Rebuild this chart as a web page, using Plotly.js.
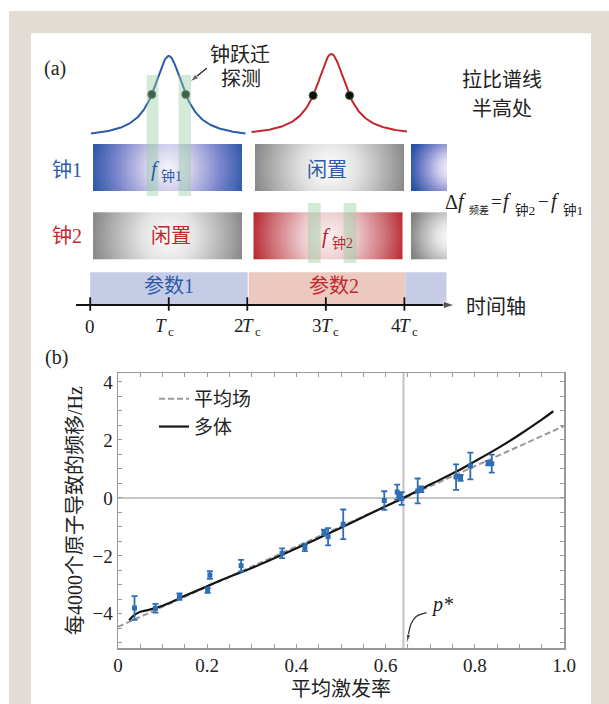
<!DOCTYPE html>
<html><head><meta charset="utf-8">
<script src="https://cdn.plot.ly/plotly-3.0.1.min.js"></script>
<style>html,body{margin:0;padding:0;background:#fff}</style>
</head><body><div id="chart" style="width:609px;height:704px"></div>
<script>
// ================= Panel (b) data =================
const excitation = [0.037,0.084,0.138,0.201,0.206,0.276,0.368,0.419,0.462,0.471,0.505,0.597,0.626,0.632,0.636,0.672,0.680,0.758,0.768,0.790,0.830,0.838];
const shift      = [-3.80,-3.81,-3.41,-3.19,-2.66,-2.34,-1.91,-1.71,-1.19,-1.34,-0.91,-0.09,0.20,0.07,-0.02,0.24,0.30,0.72,0.69,1.10,1.20,1.18];
const shiftErr   = [0.41,0.15,0.11,0.09,0.13,0.20,0.17,0.13,0.09,0.30,0.51,0.32,0.26,0.10,0.22,0.43,0.10,0.44,0.10,0.46,0.08,0.31];
const meanFieldX = [0, 1];
const meanFieldY = [-4.45, 2.48];
const manyBodyX = [0.025,0.035,0.05,0.07,0.10,0.15,0.20,0.25,0.30,0.40,0.50,0.55,0.60,0.64,0.70,0.76,0.80,0.85,0.90,0.95,0.976];
const manyBodyY = [-4.22,-4.06,-3.93,-3.86,-3.72,-3.38,-3.05,-2.72,-2.42,-1.74,-1.03,-0.66,-0.29,0.00,0.46,0.92,1.26,1.70,2.18,2.70,2.99];
const xTickVals = [0,0.2,0.4,0.6,0.8,1.0];
const xTickText = ['0','0.2','0.4','0.6','0.8','1.0'];
const yTickVals = [-4,-2,0,2,4];
const yTickText = ['\u22124','\u22122','0','2','4'];
const pStar = 0.64;
const seriesNames = ['平均场','多体'];
const pStarArrowX = [0.692,0.668,0.657,0.652,0.6486];
const pStarArrowY = [-3.96,-4.10,-4.35,-4.65,-4.97];

// ================= Panel (a) schematic =================
const timeTicks = [0,1,2,3,4];
const timeTickNum = ['0','','2','3','4'];
const clockLabels = ['钟1','钟2'];
const clock1Blocks = [[0.036,1.939],[2.098,3.995],[4.084,4.536]];
const clock2Blocks = [[0.036,1.939],[2.079,3.982],[4.084,4.536]];
const paramBars = [[0,2.005],[2.018,4.014],[4.014,4.536]];
const paramLabels = ['参数1','参数2'];
const blueLine = {x0:0.01, x1:1.977, center:1.0, base:133.5, peak:56, dots:[-0.216,0.216]};
const redLine  = {x0:2.055, x1:4.033, center:3.07, base:132, peak:54, dots:[-0.232,0.232]};
const blueBands = [[0.72,0.868],[1.125,1.283]];
const redBands  = [[2.773,2.934],[3.226,3.389]];
const timeAxisX = [-0.18, 4.64];
const probeArrowX = [1.483, 1.273];
const probeArrowY = [68.3, 81.7];

const FONT = "'Liberation Serif','Noto Sans CJK SC',serif";
const BLUE = '#2b5ba9', RED = '#c1272d', PTBLUE = '#2f6db5', INK = '#222';
const X2R = [-1.1483, 6.6048];
const PX_PER_T = 609/(X2R[1]-X2R[0]);
const pxT = px => X2R[0] + px/PX_PER_T;

const ROW1 = [144,191], ROW2 = [212.3,259.3], BAR = [272.3,305], AXY = 305;

const csBlue = [[0,'#f6f5fc'],[0.3,'#cfcdeb'],[0.65,'#7c86cc'],[1,'#2653a6']];
const csGray = [[0,'#ffffff'],[0.35,'#e2e2e2'],[0.7,'#b0b0b0'],[1,'#828283']];
const csRed  = [[0,'#fbf3f3'],[0.35,'#ecc9cb'],[0.7,'#d0737a'],[1,'#b61f27']];

function gradientBlock(x0,x1,yr,cx,R,cs){
  const nx=90, ny=30;
  const dx=(x1-x0)/nx, dy=(yr[1]-yr[0])/ny, cy=(yr[0]+yr[1])/2;
  const z=[];
  for(let j=0;j<ny;j++){
    const y=yr[0]+(j+0.5)*dy; const row=[];
    for(let i=0;i<nx;i++){
      const x=x0+(i+0.5)*dx;
      row.push(Math.min(1, Math.hypot((x-cx)*PX_PER_T, y-cy)/R));
    }
    z.push(row);
  }
  return {type:'heatmap', xaxis:'x2', yaxis:'y2', x0:x0+dx/2, dx:dx, y0:yr[0]+dy/2, dy:dy,
          z:z, zmin:0, zmax:1, colorscale:cs, showscale:false, zsmooth:'best', hoverinfo:'skip'};
}

function lorentz(p){
  const g = 18/PX_PER_T, n=160;
  const L = x => 1/(1+Math.pow((x-p.center)/g,2));
  const Le = Math.min(L(p.x0), L(p.x1));
  const f = x => p.base - (p.base-p.peak)*(L(x)-Le)/(1-Le);
  const xs=[], ys=[];
  for(let i=0;i<=n;i++){ const x=p.x0+(p.x1-p.x0)*i/n; xs.push(x); ys.push(f(x)); }
  const dx=p.dots.map(d=>p.center+d);
  return {xs, ys, dx, dy:dx.map(f)};
}

const traces = [];
const b1=clock1Blocks, b2=clock2Blocks;
traces.push(gradientBlock(b1[0][0],b1[0][1],ROW1,(b1[0][0]+b1[0][1])/2,80,csBlue));
traces.push(gradientBlock(b1[1][0],b1[1][1],ROW1,(b1[1][0]+b1[1][1])/2,80,csGray));
traces.push(gradientBlock(b1[2][0],b1[2][1],ROW1,b1[2][1]+0.05,42,csBlue));
traces.push(gradientBlock(b2[0][0],b2[0][1],ROW2,(b2[0][0]+b2[0][1])/2,80,csGray));
traces.push(gradientBlock(b2[1][0],b2[1][1],ROW2,(b2[1][0]+b2[1][1])/2,80,csRed));
traces.push(gradientBlock(b2[2][0],b2[2][1],ROW2,b2[2][1]+0.05,42,csGray));

[[blueLine,BLUE],[redLine,RED]].forEach(([p,c])=>{
  const r=lorentz(p);
  traces.push({x:r.xs,y:r.ys,xaxis:'x2',yaxis:'y2',mode:'lines',line:{color:c,width:2},showlegend:false,hoverinfo:'skip'});
  traces.push({x:r.dx,y:r.dy,xaxis:'x2',yaxis:'y2',mode:'markers',marker:{color:'#0b0f0c',size:8,line:{color:'#3a5a3a',width:1}},showlegend:false,hoverinfo:'skip'});
});

traces.push({x:timeAxisX,y:[AXY,AXY],xaxis:'x2',yaxis:'y2',mode:'lines+markers',showlegend:false,hoverinfo:'skip',
  line:{color:'#111',width:2},marker:{symbol:'arrow',angleref:'previous',size:[0,12],color:'#111'}});
traces.push({x:probeArrowX,y:probeArrowY,xaxis:'x2',yaxis:'y2',mode:'lines+markers',showlegend:false,hoverinfo:'skip',
  line:{color:INK,width:1.3},marker:{symbol:'arrow',angleref:'previous',size:[0,9],color:INK}});

// panel (b) traces
traces.push({x:meanFieldX,y:meanFieldY,mode:'lines',name:seriesNames[0],line:{color:'#9a9a9a',width:2,dash:'6px,3px'}});
traces.push({x:manyBodyX,y:manyBodyY,mode:'lines',name:seriesNames[1],line:{color:'#141414',width:2.2,shape:'spline'}});
traces.push({x:excitation,y:shift,mode:'markers',showlegend:false,
  marker:{symbol:'square',size:5,color:PTBLUE},
  error_y:{type:'data',array:shiftErr,color:PTBLUE,thickness:1.8,width:3}});
traces.push({x:pStarArrowX,y:pStarArrowY,mode:'lines+markers',showlegend:false,hoverinfo:'skip',
  line:{color:'#333',width:1.3,shape:'spline'},marker:{symbol:'arrow',angleref:'previous',size:[0,0,0,0,8],color:'#333'}});

const shapes = [
  {type:'rect',xref:'paper',yref:'paper',x0:9/609,x1:1,y0:0,y1:1-11/704,fillcolor:'#e3dcd4',line:{width:0},layer:'below'},
  {type:'rect',xref:'paper',yref:'paper',x0:31/609,x1:591/609,y0:0,y1:1-33.3/704,fillcolor:'#ffffff',line:{width:0},layer:'below'},
  {type:'line',xref:'x',yref:'y domain',x0:pStar,x1:pStar,y0:0,y1:1,line:{color:'#c2c2c2',width:2},layer:'below'}
];
blueBands.forEach(b=>shapes.push({type:'rect',xref:'x2',yref:'y2',x0:b[0],x1:b[1],y0:75,y1:196,fillcolor:'rgba(150,205,160,0.42)',line:{width:0},layer:'above'}));
redBands.forEach(b=>shapes.push({type:'rect',xref:'x2',yref:'y2',x0:b[0],x1:b[1],y0:203,y1:263,fillcolor:'rgba(150,205,160,0.42)',line:{width:0},layer:'above'}));
const barColors=['#c6cbe6','#ecc9bf','#c6cbe6'];
paramBars.forEach((b,i)=>shapes.push({type:'rect',xref:'x2',yref:'y2',x0:b[0],x1:b[1],y0:BAR[0],y1:BAR[1],fillcolor:barColors[i],line:{width:0},layer:'below'}));
timeTicks.forEach(t=>shapes.push({type:'line',xref:'x2',yref:'y2',x0:t,x1:t,y0:297.3,y1:310.7,line:{color:'#111',width:1.8}}));

const ann = [];
const A = (x,y,text,size,color,extra)=>Object.assign({xref:'x2',yref:'y2',x:x,y:y,text:text,showarrow:false,
  font:{family:FONT,size:size,color:color}},extra||{});
const P = (xpx,y,text,size,color,italic,anchor)=>({xref:'x2',yref:'y2',x:pxT(xpx),y:y,text:text,showarrow:false,
  borderpad:0,borderwidth:0,xanchor:anchor||'left',font:{family:FONT,size:size,color:color,style:italic?'italic':'normal'}});

ann.push(Object.assign(A(55/609,1-55/704,'(a)',20,INK),{xref:'paper',yref:'paper',xanchor:'center'}));
ann.push(Object.assign(A(56/609,1-357/704,'(b)',20,INK),{xref:'paper',yref:'paper',xanchor:'center'}));
ann.push(A(1.907,55,'钟跃迁',20,INK));
ann.push(A(1.92,79,'探测',20,INK));
ann.push(A(5.243,80,'拉比谱线',20,INK));
ann.push(A(5.243,109,'半高处',20,INK));
ann.push(A(-0.295,170,clockLabels[0],20,BLUE));
ann.push(A(-0.295,236,clockLabels[1],20,RED));
ann.push(A(3.015,170,'闲置',20,BLUE));
ann.push(A(1.03,236,'闲置',20,RED));
ann.push(A(1.0,286,paramLabels[0],20,BLUE));
ann.push(A(3.11,286,paramLabels[1],20,RED));
ann.push(A(5.166,306.5,'时间轴',20,INK));
ann.push(P(160,169,'f',21,BLUE,true,'right'));
ann.push(P(160.5,176,'钟1',14,BLUE,false));
ann.push(P(331,236,'f',21,RED,true,'right'));
ann.push(P(331.5,243,'钟2',14,RED,false));
// Δf_频差 = f_钟2 − f_钟1
ann.push(P(445,201.5,'Δ',20,INK,false));
ann.push(P(457.5,201.5,'f',20,INK,true));
ann.push(P(469,209.5,'频差',10,INK,false));
ann.push(P(490.5,201.5,'=',19,INK,false));
ann.push(P(503,201.5,'f',20,INK,true));
ann.push(P(515,209.5,'钟2',13.5,INK,false));
ann.push(P(537.5,201.5,'\u2212',19,INK,false));
ann.push(P(550.5,201.5,'f',20,INK,true));
ann.push(P(562.5,209.5,'钟1',13.5,INK,false));
timeTicks.forEach((t,i)=>{
  if(i===0){ ann.push(A(t,326,'0',19,INK)); return; }
  const s = (i===1) ? -1.3 : 7;
  const base = {borderpad:0,borderwidth:0};
  ann.push(A(t,325,'T',19,INK,Object.assign({xanchor:'right',xshift:s,font:{family:FONT,size:19,color:INK,style:'italic'}},base)));
  if(timeTickNum[i]) ann.push(A(t,325,timeTickNum[i],19,INK,Object.assign({xanchor:'right',xshift:s-10.5},base)));
  ann.push(A(t,331,'c',13,INK,Object.assign({xanchor:'left',xshift:s+0.5},base)));
});
ann.push({xref:'x',yref:'y',x:0.726,y:-3.67,text:'p*',showarrow:false,font:{family:FONT,size:20,color:INK,style:'italic'}});

function minorVals(a,b,s){const v=[];for(let t=a;t<=b+1e-9;t+=s)v.push(+t.toFixed(4));return v;}

const axisCommon = {showline:true,linecolor:'#9a9a9a',linewidth:1.5,mirror:'allticks',ticks:'inside',ticklen:4,
  tickcolor:'#9a9a9a',tickwidth:1,showgrid:false,tickfont:{family:FONT,size:19,color:INK},fixedrange:true};

const layout = {
  width:609,height:704,margin:{l:0,r:0,t:0,b:0},
  paper_bgcolor:'#ffffff',plot_bgcolor:'rgba(0,0,0,0)',
  font:{family:FONT,color:INK},
  showlegend:true,
  legend:{x:154/609,xanchor:'left',y:1-380/704,yanchor:'top',bgcolor:'rgba(0,0,0,0)',
          font:{family:FONT,size:19,color:INK},tracegroupgap:0},
  xaxis:Object.assign({},axisCommon,{domain:[118/609,564/609],range:[0,1],anchor:'y',zeroline:false,
     tickmode:'array',tickvals:xTickVals,ticktext:xTickText,
     minor:{tickmode:'array',tickvals:minorVals(0,1,0.05),ticks:'inside',ticklen:4,tickcolor:'#9a9a9a'},
     title:{text:'平均激发率',font:{family:FONT,size:20,color:INK},standoff:6}}),
  yaxis:Object.assign({},axisCommon,{domain:[56/704,331/704],range:[-5.18,4.31],anchor:'x',
     zeroline:true,zerolinecolor:'#c6c6c6',zerolinewidth:2,
     tickmode:'array',tickvals:yTickVals,ticktext:yTickText,
     minor:{tickmode:'array',tickvals:minorVals(-5,4,0.5),ticks:'inside',ticklen:4,tickcolor:'#9a9a9a'},
     title:{text:'每4000个原子导致的频移/Hz',font:{family:FONT,size:20,color:INK},standoff:4}}),
  xaxis2:{domain:[0,1],range:X2R,anchor:'y2',visible:false,fixedrange:true},
  yaxis2:{domain:[359/704,1],range:[345,0],anchor:'x2',visible:false,fixedrange:true},
  shapes:shapes,
  annotations:ann
};
Plotly.newPlot('chart',traces,layout,{displayModeBar:false,staticPlot:true});
</script></body></html>
